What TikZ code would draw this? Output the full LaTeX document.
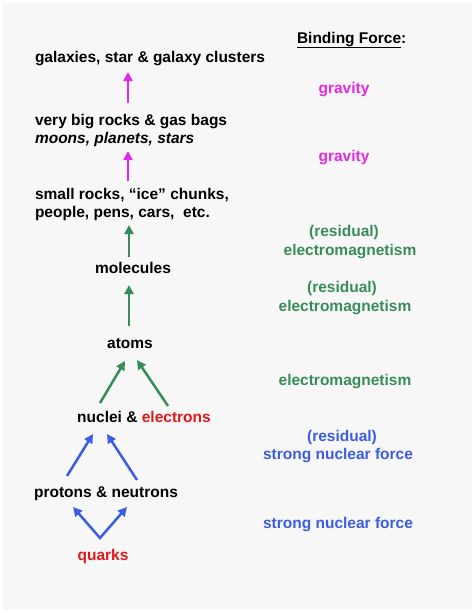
\documentclass[tikz,border=0pt]{standalone}
\usepackage{fontspec}
\setmainfont{Liberation Sans}
\usetikzlibrary{arrows.meta,calc}
\definecolor{gravmag}{RGB}{228,40,228}
\definecolor{emgreen}{RGB}{56,140,92}
\definecolor{snfblue}{RGB}{60,92,226}
\definecolor{partred}{RGB}{226,24,24}
\definecolor{paper}{RGB}{247,247,247}
\begin{document}
\begin{tikzpicture}[x=1pt, y=-1pt,
  txt/.style={inner sep=0pt, outer sep=0pt, font=\fontsize{15.5}{18}\selectfont\bfseries},
  grav/.style={txt, text=gravmag},
  em/.style={txt, text=emgreen},
  snf/.style={txt, text=snfblue},
  uparr/.style={line width=2.5pt, -{Triangle[width=9pt,length=9pt]}},
  garr/.style={uparr, gravmag},
  earr/.style={uparr, emgreen},
  barr/.style={uparr, snfblue}]
\useasboundingbox (0,0) rectangle (474,613);
\fill[white] (0,0) rectangle (474,613);
\fill[paper] (3,3) rectangle (472,610);
% left column: what is bound
\node[txt, anchor=base west] (galaxies) at (35,62) {galaxies, star \& galaxy clusters};
\node[txt, anchor=base west] (bigrocks) at (35,125) {very big rocks \& gas bags};
\node[txt, anchor=base west] (planets) at (35,143) {\itshape moons, planets, stars};
\node[txt, anchor=base west] (smallrocks) at (35,199) {small rocks, “ice” chunks,};
\node[txt, anchor=base west] (people) at (35,217) {people, pens, cars,~ etc.};
\node[txt, anchor=base] (molecules) at (133,273) {molecules};
\node[txt, anchor=base] (atoms) at (130,348) {atoms};
\node[txt, anchor=base] (nuclei) at (144,422) {nuclei \& \textcolor{partred}{electrons}};
\node[txt, anchor=base] (protons) at (106,497) {protons \& neutrons};
\node[txt, anchor=base, text=partred] (quarks) at (103,560) {quarks};
% right column: binding force
\node[txt, anchor=base west] (hdr) at (297,43) {\underline{Binding Force}:};
\node[grav, anchor=base] (grav1) at (344,93) {gravity};
\node[grav, anchor=base] (grav2) at (344,161) {gravity};
\node[em, anchor=base] (res1) at (344,236) {(residual)};
\node[em, anchor=base] (em1) at (350,255) {electromagnetism};
\node[em, anchor=base] (res2) at (342,292) {(residual)};
\node[em, anchor=base] (em2) at (345,311) {electromagnetism};
\node[em, anchor=base] (em3) at (345,385) {electromagnetism};
\node[snf, anchor=base] (res3) at (342,441) {(residual)};
\node[snf, anchor=base] (snf1) at (338,459) {strong nuclear force};
\node[snf, anchor=base] (snf2) at (338,528) {strong nuclear force};
% arrows
\draw[garr] ($(bigrocks.base west)+(93,-22)$) -- ($(galaxies.base west)+(93,10)$);
\draw[garr] ($(smallrocks.base west)+(93,-18)$) -- ($(planets.base west)+(93,8)$);
\draw[earr] ($(molecules.base)+(-4,-16)$) -- ($(people.base west)+(94,8)$);
\draw[earr] ($(atoms.base)+(-1,-22)$) -- ($(molecules.base)+(-4,12)$);
\draw[earr] ($(nuclei.base)+(-44,-19)$) -- ($(atoms.base)+(-5,13)$);
\draw[earr] ($(nuclei.base)+(24,-16)$) -- ($(atoms.base)+(7,12)$);
\draw[barr] ($(protons.base)+(-39,-21)$) -- ($(nuclei.base)+(-51,12)$);
\draw[barr] ($(protons.base)+(31,-17)$) -- ($(nuclei.base)+(-37,12)$);
\coordinate (qtip) at ($(quarks.base)+(-3,-22)$);
\draw[barr, {Triangle[width=9pt,length=9pt]}-{Triangle[width=9pt,length=9pt]}]
  ($(protons.base)+(-33,10)$) -- (qtip) -- ($(protons.base)+(21,10)$);
\end{tikzpicture}
\end{document}
